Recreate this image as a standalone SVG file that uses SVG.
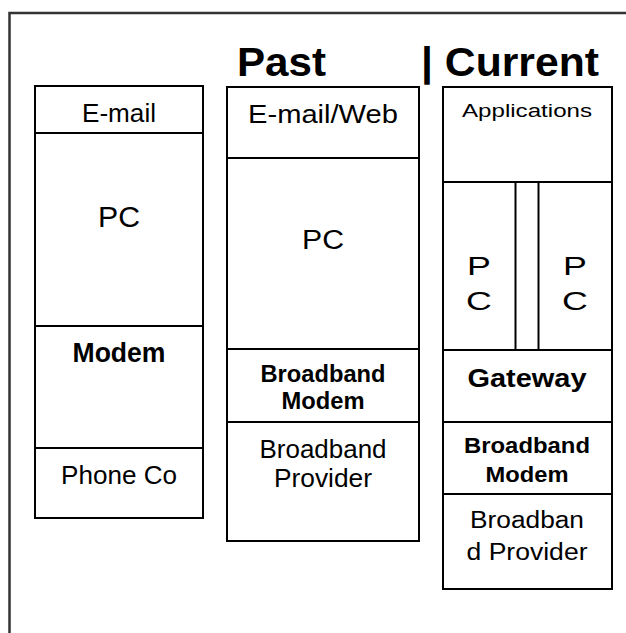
<svg xmlns="http://www.w3.org/2000/svg" width="626" height="633" viewBox="0 0 626 633">
<style>
.box{fill:#fff;stroke:#000;stroke-width:2}
.ln{stroke:#000;stroke-width:2;fill:none}
.frame{stroke:#333;stroke-width:2.5;fill:none}
text{font-family:"Liberation Sans",Arial,Helvetica,sans-serif;fill:#000;text-anchor:middle}
.b{font-weight:bold}
</style>
<rect x="0" y="0" width="626" height="633" fill="#fff"/>
<path class="frame" d="M9.5 633V13H626"/>
<g id="header">
<text class="b" x="281.5" y="76" font-size="41" textLength="89" lengthAdjust="spacingAndGlyphs">Past</text>
<text class="b" x="421" y="76" font-size="41" style="text-anchor:start" textLength="178" lengthAdjust="spacingAndGlyphs">| Current</text>
</g>
<g id="col-past-dialup">
<g id="n-email"><rect class="box" x="35" y="86" width="168" height="47"/>
<text x="119" y="122" font-size="25" textLength="74" lengthAdjust="spacingAndGlyphs">E-mail</text></g>
<g id="n-pc1"><rect class="box" x="35" y="133" width="168" height="193"/>
<text x="119" y="227" font-size="29" textLength="42" lengthAdjust="spacingAndGlyphs">PC</text></g>
<g id="n-modem"><rect class="box" x="35" y="326" width="168" height="122"/>
<text class="b" x="119" y="362" font-size="27" textLength="93" lengthAdjust="spacingAndGlyphs">Modem</text></g>
<g id="n-phoneco"><rect class="box" x="35" y="448" width="168" height="70"/>
<text x="119" y="484" font-size="26" textLength="116" lengthAdjust="spacingAndGlyphs">Phone Co</text></g>
</g>
<g id="col-past-broadband">
<g id="n-emailweb"><rect class="box" x="227" y="87" width="192" height="71"/>
<text x="323" y="123" font-size="25" textLength="150" lengthAdjust="spacingAndGlyphs">E-mail/Web</text></g>
<g id="n-pc2"><rect class="box" x="227" y="158" width="192" height="191"/>
<text x="323" y="249" font-size="27" textLength="42" lengthAdjust="spacingAndGlyphs">PC</text></g>
<g id="n-bbmodem2"><rect class="box" x="227" y="349" width="192" height="73"/>
<text class="b" x="323" y="382" font-size="23" textLength="125" lengthAdjust="spacingAndGlyphs">Broadband</text>
<text class="b" x="323" y="409" font-size="23" textLength="83" lengthAdjust="spacingAndGlyphs">Modem</text></g>
<g id="n-bbprov2"><rect class="box" x="227" y="422" width="192" height="119"/>
<text x="323" y="458" font-size="25" textLength="127" lengthAdjust="spacingAndGlyphs">Broadband</text>
<text x="323" y="487" font-size="25" textLength="98" lengthAdjust="spacingAndGlyphs">Provider</text></g>
</g>
<g id="col-current">
<g id="n-apps"><rect class="box" x="443" y="87" width="169" height="95"/>
<text transform="translate(527 117) scale(1.27 1)" x="0" y="0" font-size="19">Applications</text></g>
<g id="n-pcs"><rect class="box" x="443" y="182" width="169" height="168"/>
<line class="ln" x1="515.5" y1="182" x2="515.5" y2="350"/>
<line class="ln" x1="538.5" y1="182" x2="538.5" y2="350"/>
<text transform="translate(479 275) scale(1.35 1)" x="0" y="0" font-size="26.5">P</text>
<text transform="translate(479 310) scale(1.35 1)" x="0" y="0" font-size="26.5">C</text>
<text transform="translate(575 275) scale(1.35 1)" x="0" y="0" font-size="26.5">P</text>
<text transform="translate(575 310) scale(1.35 1)" x="0" y="0" font-size="26.5">C</text></g>
<g id="n-gateway"><rect class="box" x="443" y="350" width="169" height="72"/>
<text class="b" x="527" y="387" font-size="25.5" textLength="119" lengthAdjust="spacingAndGlyphs">Gateway</text></g>
<g id="n-bbmodem3"><rect class="box" x="443" y="422" width="169" height="72"/>
<text class="b" x="527" y="453" font-size="22.5" textLength="126" lengthAdjust="spacingAndGlyphs">Broadband</text>
<text class="b" x="527" y="482" font-size="22.5" textLength="83" lengthAdjust="spacingAndGlyphs">Modem</text></g>
<g id="n-bbprov3"><rect class="box" x="443" y="494" width="169" height="95"/>
<text x="527" y="528" font-size="24.7" textLength="114" lengthAdjust="spacingAndGlyphs">Broadban</text>
<text x="527" y="560" font-size="24.7" textLength="121" lengthAdjust="spacingAndGlyphs">d Provider</text></g>
</g>
<g id="connectors"/>
</svg>
